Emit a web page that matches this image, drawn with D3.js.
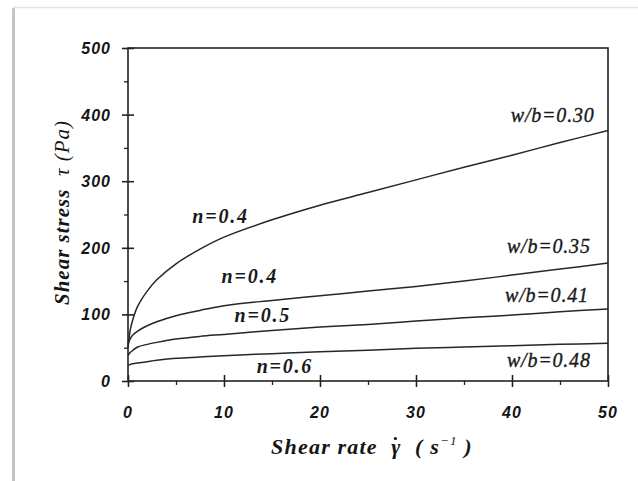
<!DOCTYPE html>
<html><head><meta charset="utf-8">
<script src="https://cdn.jsdelivr.net/npm/d3@7/dist/d3.min.js"></script>
<style>
html,body{margin:0;padding:0;background:#fff;}
svg{display:block;}
.tick-lbl{font-family:"Liberation Sans",Arial,sans-serif;font-weight:bold;font-style:italic;font-size:16px;fill:#151515;letter-spacing:1px;}
.ser{font-family:"Liberation Serif","Times New Roman",serif;font-style:italic;font-weight:bold;font-size:19px;fill:#1a1a1a;}
.ttl{font-family:"Liberation Serif","Times New Roman",serif;font-weight:bold;font-style:italic;font-size:21px;fill:#151515;letter-spacing:1px;white-space:pre;}
</style></head>
<body>
<script>
// ---- data ----
const shearRate = [0, 0.25, 0.5, 1, 2, 3, 5, 7.5, 10, 15, 20, 25, 30, 35, 40, 45, 50];
const wb030 = [50, 78, 92, 112, 135, 152, 176, 198, 216, 242, 264, 283, 302, 321, 339, 358, 376];
const wb035 = [55, 64, 69, 75, 83, 89, 98, 106, 113, 121, 128, 135, 142, 150, 159, 168, 177];
const wb041 = [38, 43, 46, 51, 55, 58, 63, 67, 70, 76, 81, 85, 90, 95, 99, 104, 108];
const wb048 = [23, 25, 26, 27, 29, 31, 34, 36, 38, 41, 44, 46, 49, 51, 53, 55, 56.5];
const seriesNames = ["w/b=0.30", "w/b=0.35", "w/b=0.41", "w/b=0.48"];
const nLabels = ["n=0.4", "n=0.4", "n=0.5", "n=0.6"];
const xTicks = [0, 10, 20, 30, 40, 50];
const yTicks = [0, 100, 200, 300, 400, 500];
const xMinor = [5, 15, 25, 35, 45];
const yMinor = [50, 150, 250, 350, 450];
// annotation anchors in data units
const nLabelPos = [[6.7, 237], [9.75, 146.5], [11.1, 89], [13.4, 11.5]];
const wbLabelPos = [[48.6, 389], [48.2, 191.5], [48.0, 119], [48.2, 21.5]];

const W = 638, H = 481;
const m = {l:128, r:30, t:48, b:100};
const svg = d3.select("body").append("svg").attr("width", W).attr("height", H);

// page frame
svg.append("line").attr("x1",13.5).attr("x2",13.5).attr("y1",8).attr("y2",H).attr("stroke","#c4c4c4").attr("stroke-width",3);
svg.append("line").attr("x1",13).attr("x2",W).attr("y1",7.5).attr("y2",7.5).attr("stroke","#e2e2e2").attr("stroke-width",1.5);

const x = d3.scaleLinear().domain([0,50]).range([m.l, W - m.r]);
const y = d3.scaleLinear().domain([0,500]).range([H - m.b, m.t]);

const g = svg.append("g");
// frame
g.append("rect").attr("x", x(0)).attr("y", y(500)).attr("width", x(50)-x(0)).attr("height", y(0)-y(500))
  .attr("fill","none").attr("stroke","#222").attr("stroke-width",1.6);

// axes ticks
const xAx = g.append("g").attr("transform",`translate(0,${y(0)})`)
  .call(d3.axisBottom(x).tickValues(xTicks).tickSize(6).tickFormat(""));
xAx.selectAll(".tick line").attr("y1",-6).attr("stroke","#222").attr("stroke-width",1.6);
xAx.select(".domain").remove();
const xAxm = g.append("g").attr("transform",`translate(0,${y(0)})`)
  .call(d3.axisBottom(x).tickValues(xMinor).tickSize(4).tickFormat(""));
xAxm.selectAll(".tick line").attr("stroke","#222").attr("stroke-width",1.3);
xAxm.select(".domain").remove();

const yAx = g.append("g").attr("transform",`translate(${x(0)},0)`)
  .call(d3.axisLeft(y).tickValues(yTicks).tickSize(6).tickFormat(""));
yAx.selectAll(".tick line").attr("x1",6).attr("stroke","#222").attr("stroke-width",1.6);
yAx.select(".domain").remove();
const yAxm = g.append("g").attr("transform",`translate(${x(0)},0)`)
  .call(d3.axisLeft(y).tickValues(yMinor).tickSize(4).tickFormat(""));
yAxm.selectAll(".tick line").attr("stroke","#222").attr("stroke-width",1.3);
yAxm.select(".domain").remove();

// tick labels
g.selectAll(".xl").data(xTicks).enter().append("text").attr("class","tick-lbl")
  .attr("x", d => x(d)).attr("y", y(0) + 37).attr("text-anchor","middle").text(d => d);
g.selectAll(".yl").data(yTicks).enter().append("text").attr("class","tick-lbl")
  .attr("x", x(0) - 17).attr("y", d => y(d) + 6).attr("text-anchor","end").text(d => d);

// curves
const allSeries = [wb030, wb035, wb041, wb048];
const line = d3.line().x((d,i) => x(shearRate[i])).y(d => y(d)).curve(d3.curveCatmullRom.alpha(0.5));
g.selectAll(".curve").data(allSeries).enter().append("path")
  .attr("d", line).attr("fill","none").attr("stroke","#262626").attr("stroke-width",1.5);

// annotations
g.selectAll(".nl").data(nLabels).enter().append("text").attr("class","ser")
  .style("font-size","20px").style("letter-spacing","1.8px")
  .attr("x",(d,i)=>x(nLabelPos[i][0])).attr("y",(d,i)=>y(nLabelPos[i][1])).text(d=>d);
g.selectAll(".wl").data(seriesNames).enter().append("text").attr("class","ser")
  .style("font-size","20px").style("letter-spacing","0.8px").style("font-weight","normal")
  .style("stroke","#1a1a1a").style("stroke-width","0.35px").attr("text-anchor","end")
  .attr("x",(d,i)=>x(wbLabelPos[i][0])).attr("y",(d,i)=>y(wbLabelPos[i][1])).text(d=>d);

// axis titles
const yt = svg.append("text").attr("class","ttl").attr("text-anchor","middle")
  .attr("transform",`translate(69,${(y(0)+y(500))/2 - 2}) rotate(-90)`);
yt.append("tspan").text("Shear stress  ");
yt.append("tspan").text("τ").style("font-weight","normal");
yt.append("tspan").text(" (Pa)").style("font-weight","normal");

const xt = svg.append("text").attr("class","ttl").attr("text-anchor","middle")
  .style("font-size","22px").style("letter-spacing","1.2px")
  .attr("x",(x(0)+x(50))/2 + 4).attr("y", 454);
const full = "Shear rate  γ";
xt.append("tspan").text(full + "  ( s");
xt.append("tspan").text("−1").attr("dy",-9).style("font-size","13px").style("font-weight","normal");
xt.append("tspan").text(" )").attr("dy",9);
// dot above gamma (time-derivative mark)
const ext = xt.node().getExtentOfChar(full.length - 1);
svg.append("circle").attr("cx", ext.x + ext.width/2 - 1).attr("cy", ext.y + 4.5).attr("r", 1.6).attr("fill","#151515");
</script>
</body></html>
